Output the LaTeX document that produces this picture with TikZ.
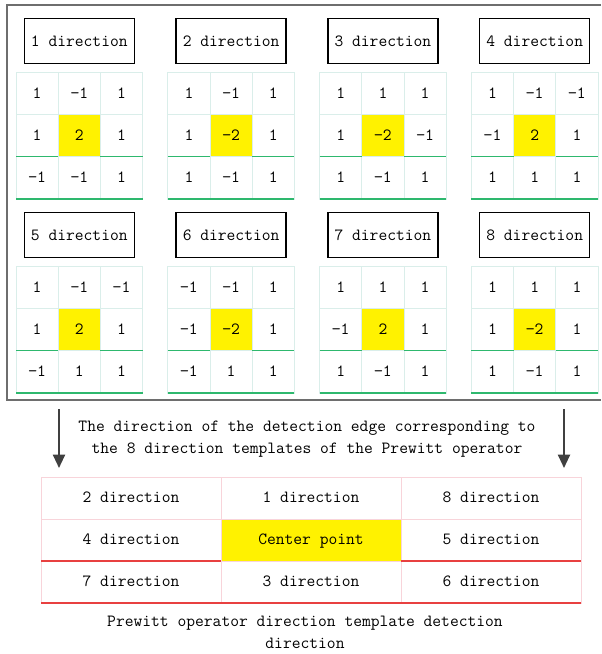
\documentclass[tikz,border=0pt]{standalone}
\usepackage{fontspec}
\usepackage{xcolor}
\usetikzlibrary{positioning,arrows.meta}

\definecolor{framegray}{RGB}{110,110,110}
\definecolor{gridline}{RGB}{218,238,234}
\definecolor{gridgreen}{RGB}{46,184,110}
\definecolor{tabline}{RGB}{248,212,218}
\definecolor{tabred}{RGB}{232,64,64}
\definecolor{arrowgray}{RGB}{64,64,64}

\begin{document}
\begin{tikzpicture}[x=0.75pt,y=0.75pt,yscale=-1,xscale=1,
  font=\ttfamily\fontsize{12.8}{16.5}\selectfont,
  cell/.style={draw=gridline, line width=0.5, minimum width=31.65pt, minimum height=31.65pt, inner sep=0pt, outer sep=0pt, text height=8.5pt, text depth=1pt},
  headbox/.style={draw=black, line width=1.1pt, minimum width=82.5pt, minimum height=33.75pt, inner sep=0pt},
  tabcell/.style={draw=tabline, line width=0.5, minimum width=135pt, minimum height=31.5pt, inner sep=0pt, outer sep=0pt, text height=8.5pt, text depth=2.5pt},
  downarrow/.style={arrowgray, line width=1.5pt, -{Triangle[length=10pt,width=9pt]}}]
\useasboundingbox (0,0) rectangle (601,654);

%Frame round the eight templates
\draw [framegray, line width=1]  (601,5) -- (7,5) -- (7,400) -- (601,400) ;

%Templates 1 to 8
\foreach \i/\vals in {1/{1,−1,1,1,2,1,−1,−1,1}, 2/{1,−1,1,1,−2,1,1,−1,1},
                      3/{1,1,1,1,−2,−1,1,−1,1}, 4/{1,−1,−1,−1,2,1,1,1,1},
                      5/{1,−1,−1,1,2,1,−1,1,1}, 6/{−1,−1,1,−1,−2,1,−1,1,1},
                      7/{1,1,1,−1,2,1,1,−1,1}, 8/{1,1,1,1,−2,1,1,−1,1}}{
  \pgfmathsetmacro\gx{16+151.8*mod(\i-1,4)}
  \pgfmathsetmacro\gy{72.3+194*int((\i-1)/4)}
  \node [headbox] (h\i) at (\gx+63.3,\gy-31.3) {\i\ direction};
  \foreach \v [count=\k] in \vals {
    \pgfmathsetmacro\cx{\gx+21.1+42.2*mod(\k-1,3)}
    \pgfmathsetmacro\cy{\gy+21.1+42.2*int((\k-1)/3)}
    \ifnum\k=5 \def\cfill{yellow}\else\def\cfill{none}\fi
    \node [cell, fill=\cfill] (t\i-\k) at (\cx,\cy) {\v};
  }
  \draw [gridgreen, line width=1] (t\i-4.south west) -- (t\i-4.south east)
        (t\i-6.south west) -- (t\i-6.south east)
        (t\i-7.south west) -- (t\i-9.south east) ;
}

%Arrows and note
\coordinate (la) at (59,409);
\coordinate (lb) at (59,468);
\coordinate (ra) at (564,409);
\coordinate (rb) at (564,468);
\draw [downarrow] (la) -- (lb) ;
\draw [downarrow] (ra) -- (rb) ;
\node [align=center] (note) at (307,439) {The direction of the detection edge corresponding to\\the 8 direction templates of the Prewitt operator};

%Direction table
\foreach \t [count=\k] in {2 direction, 1 direction, 8 direction, 4 direction, Center point, 5 direction, 7 direction, 3 direction, 6 direction}{
  \pgfmathsetmacro\cx{131+180*mod(\k-1,3)}
  \pgfmathsetmacro\cy{498+42*int((\k-1)/3)}
  \ifnum\k=5 \def\cfill{yellow}\else\def\cfill{none}\fi
  \node [tabcell, fill=\cfill] (d\k) at (\cx,\cy) {\t};
}
\draw [tabred, line width=1] (d4.south west) -- (d4.south east)
      (d6.south west) -- (d6.south east)
      (d7.south west) -- (d9.south east) ;

% Text Node
\node [align=center] (caption) at (305,632) {Prewitt operator direction template detection\\direction};

\end{tikzpicture}
\end{document}
